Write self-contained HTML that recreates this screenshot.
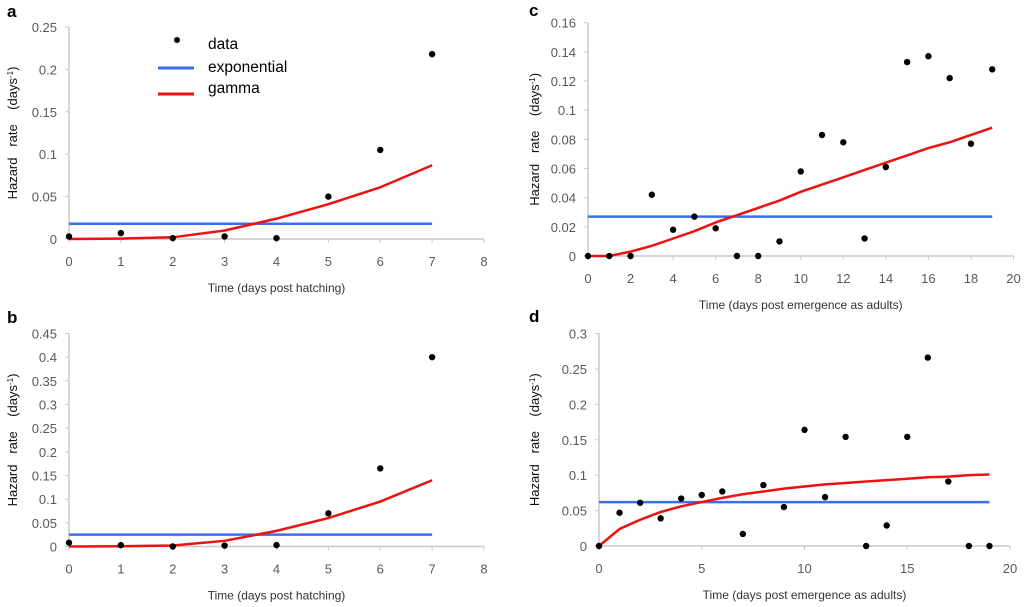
<!DOCTYPE html>
<html><head><meta charset="utf-8"><style>
body{margin:0;background:#fff;}
svg{display:block;font-family:"Liberation Sans",sans-serif;}
.tk{fill:#595959;font-size:13px;}
.tt{fill:#333;font-size:12px;}
.yt{fill:#111;font-size:13px;}
.lt{font-weight:bold;font-size:17px;fill:#000;}
</style></head><body>
<svg id="fig" width="1024" height="607" viewBox="0 0 1024 607">
<g>
<circle cx="177" cy="40" r="3" fill="#000"/>
<text x="208" y="49" font-size="15.5" fill="#000">data</text>
<line x1="158" y1="68" x2="194" y2="68" stroke="#3a6ff0" stroke-width="3"/>
<text x="208" y="72" font-size="15.5" fill="#000">exponential</text>
<line x1="158" y1="94" x2="194" y2="94" stroke="#f01010" stroke-width="3"/>
<text x="208" y="93" font-size="15.5" fill="#000">gamma</text>
</g>
</svg>
<script>
// Panel a
const aData=[0.003,0.007,0.001,0.003,0.001,0.05,0.105,0.218];
const aExp=0.018;
const aGamma=[0,0.0005,0.002,0.01,0.024,0.041,0.061,0.087];
const aYTicks=["0","0.05","0.1","0.15","0.2","0.25"];
const aXTicks=["0","1","2","3","4","5","6","7","8"];
// Panel b
const bData=[0.008,0.003,0,0.002,0.003,0.07,0.165,0.4];
const bExp=0.025;
const bGamma=[0,0.0005,0.002,0.012,0.033,0.06,0.095,0.14];
const bYTicks=["0","0.05","0.1","0.15","0.2","0.25","0.3","0.35","0.4","0.45"];
const bXTicks=["0","1","2","3","4","5","6","7","8"];
// Panel c
const cData=[0,0,0,0.042,0.018,0.027,0.019,0,0,0.01,0.058,0.083,0.078,0.012,0.061,0.133,0.137,0.122,0.077,0.128];
const cExp=0.027;
const cGamma=[0,0,0.003,0.007,0.012,0.017,0.023,0.028,0.033,0.038,0.044,0.049,0.054,0.059,0.064,0.069,0.074,0.078,0.083,0.088];
const cYTicks=["0","0.02","0.04","0.06","0.08","0.1","0.12","0.14","0.16"];
const cXTicks=["0","2","4","6","8","10","12","14","16","18","20"];
// Panel d
const dData=[0,0.047,0.061,0.039,0.067,0.072,0.077,0.017,0.086,0.055,0.164,0.069,0.154,0,0.029,0.154,0.266,0.091,0,0];
const dExp=0.062;
const dGamma=[0,0.024,0.037,0.048,0.056,0.062,0.068,0.073,0.077,0.081,0.084,0.087,0.089,0.091,0.093,0.095,0.097,0.098,0.1,0.101];
const dYTicks=["0","0.05","0.1","0.15","0.2","0.25","0.3"];
const dXTicks=["0","5","10","15","20"];

const NS="http://www.w3.org/2000/svg";
const svg=document.getElementById('fig');
function mk(tag,attrs,parent){const e=document.createElementNS(NS,tag);for(const k in attrs)e.setAttribute(k,attrs[k]);(parent||svg).appendChild(e);return e;}

function panel(p){
  const g=mk('g',{});
  
  
  const yMax=parseFloat(p.yt[p.yt.length-1]), xMax=parseFloat(p.xt[p.xt.length-1]);
  const X=v=>p.x0+(p.x1-p.x0)*v/xMax;
  const Y=v=>p.y0+(p.y1-p.y0)*v/yMax;
  const ax=mk('line',{x1:p.x0,y1:p.y0,x2:p.x0,y2:p.y1,stroke:'#c8c8c8','stroke-width':1.5},g);
  
  const bx=mk('line',{x1:p.x0,y1:p.y0,x2:p.x1,y2:p.y0,stroke:'#c8c8c8','stroke-width':1.5},g);
  
  p.yt.forEach(t=>{const y=Y(parseFloat(t));
    mk('line',{x1:p.x0-4,y1:y,x2:p.x0,y2:y,stroke:'#c8c8c8'},g);
    const e=mk('text',{x:p.x0-12,y:y+5,'text-anchor':'end',class:'tk'},g);e.textContent=t;
    });
  p.xt.forEach(t=>{const x=X(parseFloat(t));
    mk('line',{x1:x,y1:p.y0,x2:x,y2:p.y0+4,stroke:'#c8c8c8'},g);
    const e=mk('text',{x:x,y:p.y0+27,'text-anchor':'middle',class:'tk'},g);e.textContent=t;
    });
  const n=p.gamma.length;
  const ex=mk('line',{x1:X(0),y1:Y(p.exp),x2:X(n-1),y2:Y(p.exp),stroke:'#3a6ff0','stroke-width':2.5},g);
  
  const gm=mk('polyline',{points:p.gamma.map((v,i)=>X(i)+','+Y(v)).join(' '),fill:'none',stroke:'#f01010','stroke-width':2.5},g);
  
  p.data.forEach((v,i)=>{const c=mk('circle',{cx:X(i),cy:Y(v),r:3.2,fill:'#000'},g);
    });
  const xt=mk('text',{x:(p.x0+p.x1)/2,y:p.y0+53,'text-anchor':'middle',class:'tt'},g);xt.textContent=p.xtitle;
  
  const yt=mk('text',{x:0,y:0,'text-anchor':'middle',class:'yt',transform:'translate('+p.ytx+','+((p.y0+p.y1)/2)+') rotate(-90)'},g);
  yt.innerHTML='Hazard&#160;&#160;&#160;rate&#160;&#160;&#160;&#160;(days<tspan baseline-shift="super" font-size="8">-1</tspan>)';
  
  const l=mk('text',{x:p.lx,y:p.ly,class:'lt'},g);l.textContent=p.id;
  
}
panel({id:'a',data:aData,exp:aExp,gamma:aGamma,yt:aYTicks,xt:aXTicks,x0:69,x1:484,y0:239,y1:27,ytx:17,lx:7,ly:17,xtitle:'Time (days post hatching)'});
panel({id:'b',data:bData,exp:bExp,gamma:bGamma,yt:bYTicks,xt:bXTicks,x0:69,x1:484,y0:546.5,y1:333.5,ytx:17,lx:7,ly:323,xtitle:'Time (days post hatching)'});
panel({id:'c',data:cData,exp:cExp,gamma:cGamma,yt:cYTicks,xt:cXTicks,x0:588,x1:1013.5,y0:256,y1:22.7,ytx:539,lx:529,ly:16,xtitle:'Time (days post emergence as adults)'});
panel({id:'d',data:dData,exp:dExp,gamma:dGamma,yt:dYTicks,xt:dXTicks,x0:599,x1:1010,y0:546,y1:333.5,ytx:539,lx:529,ly:322,xtitle:'Time (days post emergence as adults)'});
</script>
</body></html>
